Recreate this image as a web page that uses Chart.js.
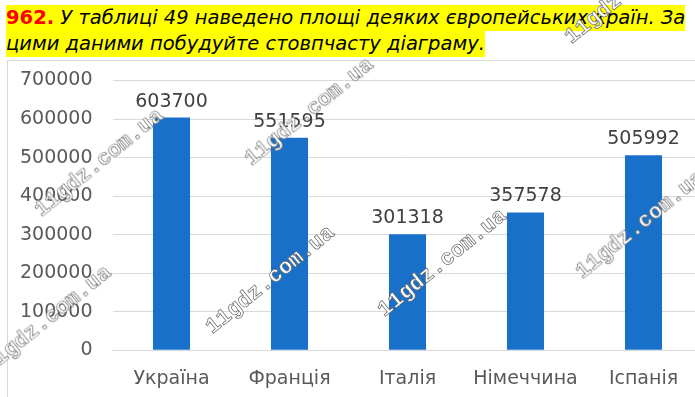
<!DOCTYPE html>
<html>
<head>
<meta charset="utf-8">
<script src="https://cdn.jsdelivr.net/npm/chart.js@4/dist/chart.umd.min.js"></script>
<style>
  html, body { margin: 0; padding: 0; background: #fff; }
  body { width: 695px; height: 397px; overflow: hidden; position: relative; }
  .title { position: absolute; left: 6px; top: 5px; font-family: 'DejaVu Sans'; font-size: 19.5px; font-style: italic; color: #000; }
  .title span.line { display: inline-block; background: #ffff00; line-height: 26px; height: 26px; white-space: nowrap; }
  .title b { color: #ff0000; font-style: normal; }
  .frame { position: absolute; left: 7px; top: 60px; width: 720px; height: 350px; border: 1px solid #d9d9d9; }
  .wrap { position: absolute; left: 0; top: 0; width: 720px; height: 350px; }
  .wm { position: absolute; font-family: 'Liberation Mono'; font-weight: bold; font-size: 22px; line-height: 22px; color: #fff;
        -webkit-text-stroke: 0.7px #666; transform-origin: 0 17px; transform: rotate(-39deg); white-space: nowrap; }
</style>
</head>
<body>
<div class="title">
  <span class="line"><b>962.</b> У таблиці 49 наведено площі деяких європейських країн. За</span><br>
  <span class="line">цими даними побудуйте стовпчасту діаграму.</span>
</div>
<div class="frame">
  <div class="wrap"><canvas id="chart"></canvas></div>
</div>
<div id="marks"></div>
<script>
const countries = ['Україна', 'Франція', 'Італія', 'Німеччина', 'Іспанія'];
const areas = [603700, 551595, 301318, 357578, 505992];
const yMin = 0;
const yMax = 700000;
const yStep = 100000;

// watermark anchors (left end of baseline)
const markX = [-10, 42, 213, 252, 385, 583, 572];
const markY = [375, 218, 335, 167, 318, 280, 45];

const valueLabels = {
  id: 'valueLabels',
  afterDatasetsDraw(chart) {
    const ctx = chart.ctx;
    const meta = chart.getDatasetMeta(0);
    ctx.save();
    ctx.font = '19px "DejaVu Sans"';
    ctx.fillStyle = '#404040';
    ctx.textAlign = 'center';
    ctx.textBaseline = 'alphabetic';
    meta.data.forEach((bar, i) => {
      ctx.fillText(String(areas[i]), bar.x, bar.y - 11);
    });
    ctx.restore();
  }
};

Chart.defaults.font.family = '"DejaVu Sans"';
Chart.defaults.font.size = 19;
Chart.defaults.color = '#595959';

new Chart(document.getElementById('chart'), {
  type: 'bar',
  data: {
    labels: countries,
    datasets: [{
      data: areas,
      backgroundColor: '#1870c8',
      borderWidth: 0,
      barPercentage: 0.314,
      categoryPercentage: 1
    }]
  },
  options: {
    responsive: true,
    maintainAspectRatio: false,
    animation: false,
    layout: { padding: { left: 0, right: 25.5, top: 19.5, bottom: 0 } },
    plugins: { legend: { display: false }, tooltip: { enabled: false } },
    scales: {
      x: {
        grid: { display: false },
        border: { display: true, color: '#d9d9d9', width: 1 },
        ticks: { padding: 9, color: '#595959' },
        afterFit(scale) { scale.height = 60.7; }
      },
      y: {
        min: yMin,
        max: yMax,
        grid: { color: '#d9d9d9', drawTicks: false },
        border: { display: false },
        ticks: { stepSize: yStep, padding: 20, color: '#595959', callback: v => String(v) },
        afterFit(scale) {
          scale.width = 104.5;
          scale.paddingTop = 0;
          scale.paddingBottom = 0;
        }
      }
    }
  },
  plugins: [valueLabels]
});

const marks = document.getElementById('marks');
markX.forEach((x, i) => {
  const d = document.createElement('div');
  d.className = 'wm';
  d.textContent = '11gdz.com.ua';
  d.style.left = x + 'px';
  d.style.top = (markY[i] - 17) + 'px';
  marks.appendChild(d);
});
</script>
</body>
</html>
